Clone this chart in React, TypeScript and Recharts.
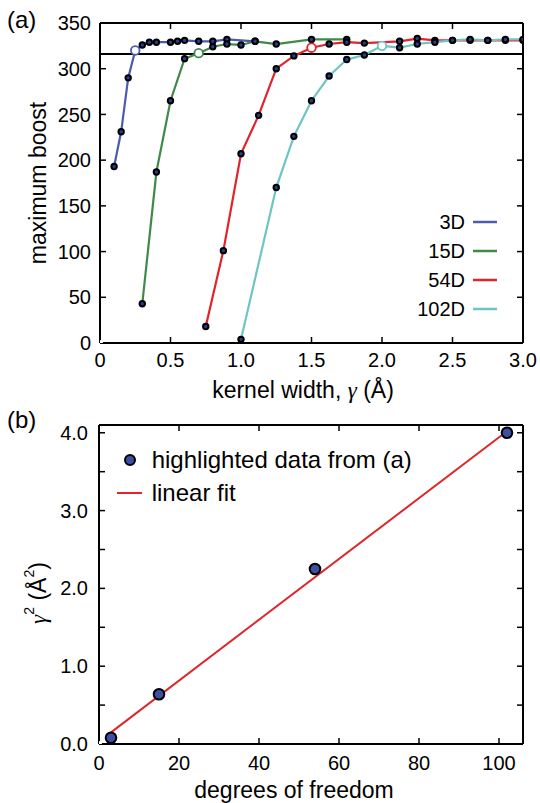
import React from 'react';
import { ComposedChart, Line, Scatter, XAxis, YAxis, ReferenceLine, Legend } from 'recharts';

// ---------- Panel (a) data ----------
const seriesNames = ['3D', '15D', '54D', '102D'];
const seriesColors = ['#4a5cab', '#3f8a48', '#e1242b', '#6fc4c4'];

const gamma3D = [0.1, 0.15, 0.2, 0.25, 0.3, 0.35, 0.4, 0.5, 0.55, 0.6, 0.7, 0.8, 0.9, 1.1];
const boost3D = [193, 231, 290, 320, 326, 329, 329, 329, 330, 331, 330, 330, 332, 330];

const gamma15D = [0.3, 0.4, 0.5, 0.6, 0.7, 0.8, 0.9, 1.0, 1.1, 1.25, 1.5, 1.75];
const boost15D = [43, 187, 265, 311, 317, 324, 327, 326, 330, 327, 332, 332];

const gamma54D = [0.75, 0.875, 1.0, 1.125, 1.25, 1.375, 1.5, 1.625, 1.75, 1.875, 2.125, 2.25, 2.375, 2.5, 2.625, 2.75, 2.875, 3.0];
const boost54D = [18, 101, 207, 249, 300, 314, 323, 327, 329, 328, 330, 333, 331, 331, 331, 331, 331, 331];

const gamma102D = [1.0, 1.25, 1.375, 1.5, 1.625, 1.75, 1.875, 2.0, 2.125, 2.25, 2.375, 2.5, 2.625, 2.75, 2.875, 3.0];
const boost102D = [4, 170, 226, 265, 292, 310, 315, 325, 323, 327, 329, 331, 332, 331, 332, 332];

const highlightGamma = [0.25, 0.7, 1.5, 2.0];
const thresholdBoost = 316;

const xTicksA = [0, 0.5, 1.0, 1.5, 2.0, 2.5, 3.0];
const yTicksA = [0, 50, 100, 150, 200, 250, 300, 350];

// ---------- Panel (b) data ----------
const dof = [3, 15, 54, 102];
const gammaSq = [0.08, 0.64, 2.25, 4.0];
const fitDof = [3, 102];
const fitGammaSq = [0.15, 4.02];
const xTicksB = [0, 20, 40, 60, 80, 100];
const yTicksB = [0, 0.5, 1.0, 1.5, 2.0, 2.5, 3.0, 3.5, 4.0];

const gammas = [gamma3D, gamma15D, gamma54D, gamma102D];
const boosts = [boost3D, boost15D, boost54D, boost102D];
const seriesData = gammas.map((g, s) => g.map((x, i) => ({ x, y: boosts[s][i] })));

const scatterData = dof.map((x, i) => ({ x, y: gammaSq[i] }));
const fitData = fitDof.map((x, i) => ({ x, y: fitGammaSq[i] }));

const FONT = "'Liberation Sans', Arial, Helvetica, sans-serif";
const tickStyle = { fontSize: 20, fill: '#000', fontFamily: FONT };
const axisLine = { stroke: '#000', strokeWidth: 2 };
const tickLine = { stroke: '#000', strokeWidth: 1.5 };
const noLabel = (props: any) => <g key={`t-${props.index}`} />;

const makeDot = (s: number) => (props: any) => {
  const { cx, cy, payload, index } = props;
  if (cx == null || cy == null) return <g key={`d${s}-${index}`} />;
  if (Math.abs(payload.x - highlightGamma[s]) < 1e-6) {
    return (
      <circle key={`d${s}-${index}`} cx={cx} cy={cy} r={4.3} fill="#fff" stroke={seriesColors[s]} strokeWidth={1.8} />
    );
  }
  return <circle key={`d${s}-${index}`} cx={cx} cy={cy} r={2.7} fill="#2b3b8f" stroke="#000" strokeWidth={2} />;
};

const LegendA = () => (
  <div style={{ position: 'relative', width: 170, height: 130, fontFamily: FONT, fontSize: 20, color: '#000' }}>
    {seriesNames.map((n, i) => {
      const center = 21.7 + i * 29.1;
      return (
        <div key={n} style={{ position: 'absolute', left: 0, top: center - 14, height: 28, width: 156 }}>
          <span style={{ position: 'absolute', right: 31, top: 0, lineHeight: '28px', whiteSpace: 'nowrap' }}>{n}</span>
          <svg style={{ position: 'absolute', left: 133, top: 12 }} width={24} height={4}>
            <line x1={0} y1={2} x2={24} y2={2} stroke={seriesColors[i]} strokeWidth={2.5} />
          </svg>
        </div>
      );
    })}
  </div>
);

const legendBTexts = ['highlighted data from (a)', 'linear fit'];

const LegendB = () => (
  <div style={{ position: 'relative', width: 320, height: 80, fontFamily: FONT, fontSize: 24, color: '#000' }}>
    <div style={{ position: 'absolute', left: 0, top: 5, height: 30, width: 320 }}>
      <svg style={{ position: 'absolute', left: 13, top: 8 }} width={14} height={14}>
        <circle cx={7} cy={7} r={5} fill="#3d4ea3" stroke="#000" strokeWidth={2} />
      </svg>
      <span style={{ position: 'absolute', left: 41.7, top: 0, lineHeight: '30px', whiteSpace: 'nowrap' }}>{legendBTexts[0]}</span>
    </div>
    <div style={{ position: 'absolute', left: 0, top: 38, height: 30, width: 320 }}>
      <svg style={{ position: 'absolute', left: 6.7, top: 13 }} width={25} height={4}>
        <line x1={0} y1={2} x2={25} y2={2} stroke="#e0262b" strokeWidth={2} />
      </svg>
      <span style={{ position: 'absolute', left: 41.7, top: 0, lineHeight: '30px', whiteSpace: 'nowrap' }}>{legendBTexts[1]}</span>
    </div>
  </div>
);

const ScatterDot = (props: any) => {
  const { cx, cy } = props;
  return <circle cx={cx} cy={cy} r={5.3} fill="#3d4ea3" stroke="#000" strokeWidth={2} />;
};

export default function App() {
  return (
    <div style={{ position: 'absolute', left: 0, top: 0, width: 540, height: 803, fontFamily: FONT, background: '#fff' }}>
      <div style={{ position: 'absolute', left: 0, top: 0 }}>
        <ComposedChart width={540} height={400} margin={{ top: 22, right: 16, bottom: 0, left: 0 }}>
          <XAxis
            xAxisId={0}
            dataKey="x"
            type="number"
            domain={[0, 3]}
            ticks={xTicksA}
            interval={0}
            height={57}
            tickSize={-6}
            tickMargin={16}
            tick={tickStyle}
            tickLine={tickLine}
            axisLine={axisLine}
            tickFormatter={(v: number) => (v === 0 ? '0' : v.toFixed(1))}
            allowDataOverflow
          />
          <XAxis
            xAxisId="top"
            orientation="top"
            dataKey="x"
            type="number"
            domain={[0, 3]}
            ticks={xTicksA}
            interval={0}
            height={1}
            tickSize={-6}
            tick={noLabel}
            tickLine={tickLine}
            axisLine={axisLine}
            allowDataOverflow
          />
          <YAxis
            yAxisId={0}
            type="number"
            domain={[0, 350]}
            ticks={yTicksA}
            interval={0}
            width={100}
            tickSize={-6}
            tickMargin={15}
            tick={tickStyle}
            tickLine={tickLine}
            axisLine={axisLine}
            allowDataOverflow
          />
          <YAxis
            yAxisId="right"
            orientation="right"
            type="number"
            domain={[0, 350]}
            ticks={yTicksA}
            interval={0}
            width={1}
            tickSize={-6}
            tick={noLabel}
            tickLine={tickLine}
            axisLine={axisLine}
            allowDataOverflow
          />
          <ReferenceLine y={thresholdBoost} stroke="#000" strokeWidth={2} />
          {seriesData.map((d, s) => (
            <Line
              key={seriesNames[s]}
              data={d}
              dataKey="y"
              name={seriesNames[s]}
              type="linear"
              stroke={seriesColors[s]}
              strokeWidth={2.2}
              dot={makeDot(s)}
              activeDot={false}
              isAnimationActive={false}
            />
          ))}
          <Line
            xAxisId="top"
            yAxisId="right"
            data={[{ x: 0, y: 0 }]}
            dataKey="y"
            stroke="none"
            dot={false}
            activeDot={false}
            legendType="none"
            isAnimationActive={false}
          />
          <Legend
            layout="vertical"
            align="center"
            verticalAlign="middle"
            wrapperStyle={{ left: 340, top: 200, width: 170, height: 130 }}
            content={() => <LegendA />}
          />
        </ComposedChart>
      </div>

      <div style={{ position: 'absolute', left: 0, top: 410 }}>
        <ComposedChart width={540} height={393} margin={{ top: 14, right: 16, bottom: 0, left: 0 }}>
          <XAxis
            xAxisId={0}
            dataKey="x"
            type="number"
            domain={[0, 106]}
            ticks={xTicksB}
            interval={0}
            height={59}
            tickSize={-6}
            tickMargin={18}
            tick={tickStyle}
            tickLine={tickLine}
            axisLine={axisLine}
            allowDataOverflow
          />
          <XAxis
            xAxisId="top"
            orientation="top"
            dataKey="x"
            type="number"
            domain={[0, 106]}
            ticks={xTicksB}
            interval={0}
            height={1}
            tickSize={-6}
            tick={noLabel}
            tickLine={tickLine}
            axisLine={axisLine}
            allowDataOverflow
          />
          <YAxis
            yAxisId={0}
            type="number"
            domain={[0, 4.1]}
            ticks={yTicksB}
            interval={0}
            width={99}
            tickSize={-6}
            tickMargin={17}
            tick={tickStyle}
            tickLine={tickLine}
            axisLine={axisLine}
            tickFormatter={(v: number) => (Math.abs(v - Math.round(v)) < 1e-9 ? v.toFixed(1) : '')}
            allowDataOverflow
          />
          <YAxis
            yAxisId="right"
            orientation="right"
            type="number"
            domain={[0, 4.1]}
            ticks={yTicksB}
            interval={0}
            width={1}
            tickSize={-6}
            tick={noLabel}
            tickLine={tickLine}
            axisLine={axisLine}
            allowDataOverflow
          />
          <Line
            data={fitData}
            dataKey="y"
            name="linear fit"
            type="linear"
            stroke="#e0262b"
            strokeWidth={2}
            dot={false}
            activeDot={false}
            isAnimationActive={false}
          />
          <Scatter
            data={scatterData}
            dataKey="y"
            name="highlighted data from (a)"
            shape={ScatterDot}
            isAnimationActive={false}
          />
          <Line
            xAxisId="top"
            yAxisId="right"
            data={[{ x: 0, y: 0 }]}
            dataKey="y"
            stroke="none"
            dot={false}
            activeDot={false}
            legendType="none"
            isAnimationActive={false}
          />
          <Legend
            layout="vertical"
            align="center"
            verticalAlign="middle"
            wrapperStyle={{ left: 110, top: 30, width: 320, height: 80 }}
            content={() => <LegendB />}
          />
        </ComposedChart>
      </div>

      <svg
        width={540}
        height={803}
        style={{ position: 'absolute', left: 0, top: 0, pointerEvents: 'none' }}
        fontFamily={FONT}
      >
        <text x={7} y={28} fontSize={24} fill="#000">(a)</text>
        <text x={7} y={428} fontSize={24} fill="#000">(b)</text>
        <text
          x={38}
          y={183}
          fontSize={23}
          fill="#000"
          textAnchor="middle"
          dominantBaseline="central"
          transform="rotate(-90 38 183)"
        >
          maximum boost
        </text>
        <text x={303} y={390} fontSize={23} fill="#000" textAnchor="middle" dominantBaseline="central">
          kernel width,{' '}
          <tspan fontFamily="'Liberation Serif', 'DejaVu Serif', serif" fontStyle="italic">γ</tspan> (Å)
        </text>
        <text x={294} y={790} fontSize={23} fill="#000" textAnchor="middle" dominantBaseline="central">
          degrees of freedom
        </text>
        <text
          x={38}
          y={593}
          fontSize={23}
          fill="#000"
          textAnchor="middle"
          dominantBaseline="central"
          transform="rotate(-90 38 593)"
        >
          <tspan fontFamily="'Liberation Serif', 'DejaVu Serif', serif" fontStyle="italic">γ</tspan>
          <tspan fontSize={14} dy={-9}>2</tspan>
          <tspan dy={9}> (Å</tspan>
          <tspan fontSize={14} dy={-9}>2</tspan>
          <tspan dy={9}>)</tspan>
        </text>
      </svg>
    </div>
  );
}
